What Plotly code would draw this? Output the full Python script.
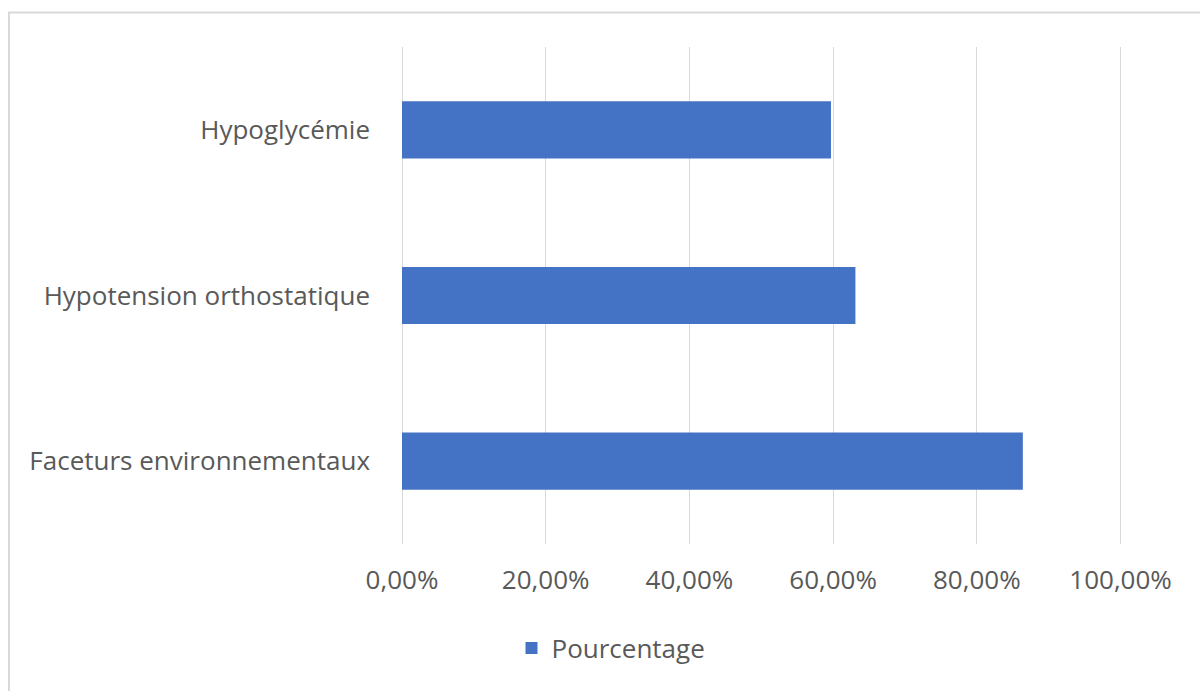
import plotly.graph_objects as go

# Risk factors and their share of cases
categories = ["Faceturs environnementaux", "Hypotension orthostatique", "Hypoglycémie"]
percentages = [0.864, 0.631, 0.597]
series_name = "Pourcentage"
tick_values = [0, 0.2, 0.4, 0.6, 0.8, 1.0]
tick_labels = ["0,00%", "20,00%", "40,00%", "60,00%", "80,00%", "100,00%"]

W, H = 1200, 691
L, R, T, B = 402, 78, 47, 147
pw, ph = W - L - R, H - T - B

def px_x(x):
    return (x - L) / pw

def px_y(y):
    return (H - B - y) / ph

text_color = "#595959"
grid_color = "#d9d9d9"
font_family = "Open Sans, Noto Sans, sans-serif"
fsize = 26

fig = go.Figure()
fig.add_trace(go.Bar(
    y=categories,
    x=percentages,
    orientation="h",
    name=series_name,
    marker=dict(color="#4472C4", line=dict(width=0)),
    showlegend=True,
))

fig.update_layout(
    width=W, height=H,
    margin=dict(l=L, r=R, t=T, b=B),
    paper_bgcolor="white",
    plot_bgcolor="white",
    bargap=0.655,
    font=dict(family=font_family, color=text_color, size=fsize),
    xaxis=dict(
        range=[0, 1.002],
        tickvals=tick_values,
        ticktext=tick_labels,
        showgrid=True,
        gridcolor=grid_color,
        gridwidth=1,
        zeroline=True,
        zerolinecolor=grid_color,
        zerolinewidth=1,
        showline=False,
        ticks="",
        ticklabelstandoff=18,
        tickfont=dict(size=fsize, color=text_color),
        fixedrange=True,
    ),
    yaxis=dict(
        showgrid=False,
        zeroline=False,
        showline=False,
        ticks="",
        ticklabelstandoff=31,
        tickfont=dict(size=fsize, color=text_color),
        fixedrange=True,
    ),
    legend=dict(
        orientation="h",
        x=px_x(611), xanchor="center",
        y=px_y(648), yanchor="middle",
        font=dict(size=fsize, color=text_color),
        itemsizing="constant",
        itemwidth=30,
    ),
    shapes=[dict(
        type="rect", xref="paper", yref="paper",
        x0=px_x(9), x1=px_x(1215), y0=px_y(705), y1=px_y(12.5),
        line=dict(color=grid_color, width=2),
        fillcolor="rgba(0,0,0,0)",
        layer="below",
    )],
)

fig.write_html("out.html")
